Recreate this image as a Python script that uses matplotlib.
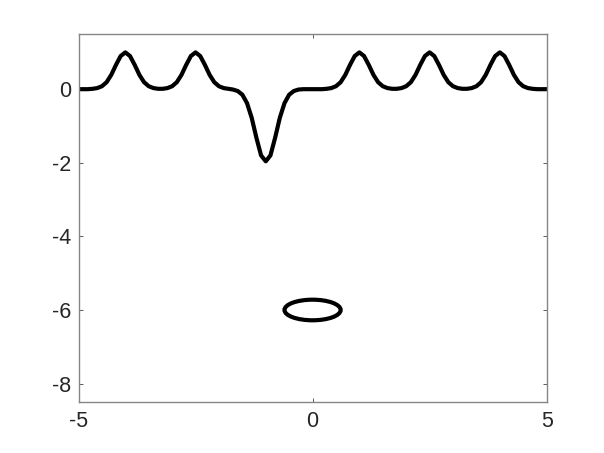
import matplotlib
matplotlib.use("Agg")
import matplotlib.pyplot as plt
import numpy as np
from matplotlib.patches import Ellipse

# curve samples (x step 0.1 from -5 to 5)
x_min, x_max = -5.0, 5.0
curve_y = [
    0.00, 0.00, 0.00, 0.01, 0.03, 0.08, 0.19, 0.39, 0.66, 0.90,   # -5.0 .. -4.1
    1.00, 0.90, 0.66, 0.39, 0.19, 0.08, 0.03, 0.01, 0.01, 0.03,   # -4.0 .. -3.1
    0.08, 0.19, 0.39, 0.66, 0.90, 1.00, 0.90, 0.66, 0.39, 0.19,   # -3.0 .. -2.1
    0.08, 0.03, 0.01, -0.01, -0.05, -0.15, -0.38, -0.78, -1.32, -1.80,  # -2.0 .. -1.1
    -1.96, -1.80, -1.32, -0.78, -0.38, -0.15, -0.05, -0.01, 0.00, 0.00,  # -1.0 .. -0.1
    0.00, 0.00, 0.00, 0.01, 0.03, 0.08, 0.19, 0.39, 0.66, 0.90,   # 0.0 .. 0.9
    1.00, 0.90, 0.66, 0.39, 0.19, 0.08, 0.03, 0.01, 0.01, 0.03,   # 1.0 .. 1.9
    0.08, 0.19, 0.39, 0.66, 0.90, 1.00, 0.90, 0.66, 0.39, 0.19,   # 2.0 .. 2.9
    0.08, 0.03, 0.01, 0.01, 0.03, 0.08, 0.19, 0.39, 0.66, 0.90,   # 3.0 .. 3.9
    1.00, 0.90, 0.66, 0.39, 0.19, 0.08, 0.03, 0.01, 0.00, 0.00,   # 4.0 .. 4.9
    0.00,                                                         # 5.0
]
curve_x = np.linspace(x_min, x_max, len(curve_y))

# the closed loop below the curve
loop_center = (0.0, -6.0)
loop_width = 1.2
loop_height = 0.56

x_ticks = [-5, 0, 5]
y_ticks = [-8, -6, -4, -2, 0]
y_lim = (-8.5, 1.5)

plt.rcParams["font.family"] = ["Liberation Sans", "DejaVu Sans"]
plt.rcParams["axes.unicode_minus"] = False

fig = plt.figure(figsize=(6.04, 4.53), dpi=100)
ax = fig.add_axes([0.13, 0.1126, 0.775, 0.8124])

ax.plot(curve_x, curve_y, color="black", lw=3.0, solid_joinstyle="round")
ax.add_patch(Ellipse(loop_center, loop_width, loop_height, fill=False,
                     edgecolor="black", lw=3.0))

ax.set_xlim(x_min, x_max)
ax.set_ylim(*y_lim)
ax.set_xticks(x_ticks)
ax.set_yticks(y_ticks)
ax.tick_params(direction="in", length=3, width=0.6, color="#404040",
               labelsize=15.5, labelcolor="#262626", top=True, right=True)
ax.tick_params(axis="x", pad=6.5)
ax.tick_params(axis="y", pad=5)
for side in ax.spines.values():
    side.set_color("#858585")
    side.set_linewidth(1.0)

fig.savefig("out.png", dpi=100)
plt.close(fig)
